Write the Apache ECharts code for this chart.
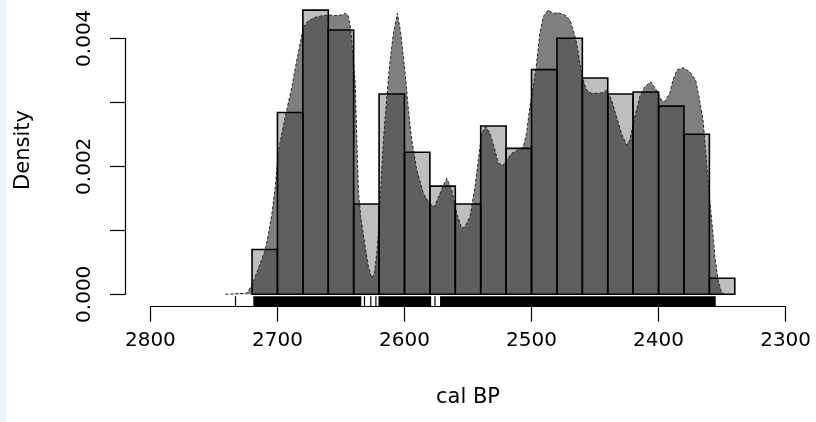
<!DOCTYPE html>
<html>
<head>
<meta charset="utf-8">
<script src="https://cdn.jsdelivr.net/npm/echarts@6/dist/echarts.min.js"></script>
<style>
  html, body { margin: 0; padding: 0; background: #ffffff; }
  #chart { width: 816px; height: 422px; }
  #edge { position: absolute; left: 0; top: 0; width: 6px; height: 422px; background: #eaf2fb; }
</style>
</head>
<body>
<div id="chart"></div>
<div id="edge"></div>
<script>
// Histogram of calibrated ages (20-year bins), density scale
const binEdges = [2720, 2700, 2680, 2660, 2640, 2620, 2600, 2580, 2560, 2540,
                  2520, 2500, 2480, 2460, 2440, 2420, 2400, 2380, 2360, 2340];
const binDensity = [0.0007, 0.00284, 0.00444, 0.00413, 0.00141, 0.00313, 0.00222, 0.00169, 0.00141, 0.00263,
                    0.00228, 0.00351, 0.0040, 0.00338, 0.00313, 0.00316, 0.00294, 0.0025, 0.00025];

// Kernel density estimate of the same sample
const densityYears = [2741, 2724, 2722.7, 2720.0, 2717.5, 2713.5, 2709.6, 2707.0, 2704.3, 2701.7,
  2699.1, 2696.5, 2693.1, 2688.6, 2684.7, 2681.3, 2679.5, 2675.6, 2670.3, 2665.0,
  2658.5, 2655.9, 2649.3, 2646.7, 2644.6, 2643.3, 2642.0, 2638.8, 2637.5, 2636.2,
  2634.4, 2631.8, 2628.4, 2625.7, 2623.7, 2621.8, 2620.2, 2618.6, 2616.6, 2613.9,
  2611.3, 2608.7, 2605.6, 2602.9, 2599.5, 2596.9, 2594.3, 2590.3, 2585.1, 2580.4,
  2576.5, 2572.0, 2566.7, 2562.8, 2558.9, 2555.0, 2552.4, 2548.4, 2544.5, 2541.9,
  2539.2, 2536.1, 2532.7, 2528.8, 2526.2, 2522.2, 2519.6, 2515.6, 2510.5, 2506.5,
  2503.9, 2501.3, 2498.7, 2496.0, 2493.4, 2490.8, 2486.9, 2482.9, 2479.0, 2473.7,
  2469.8, 2467.2, 2464.5, 2461.9, 2459.4, 2456.7, 2452.8, 2448.8, 2443.6, 2441.0,
  2437.0, 2433.1, 2429.2, 2425.2, 2422.6, 2418.7, 2414.8, 2410.8, 2406.1, 2401.7,
  2397.7, 2395.1, 2391.2, 2388.6, 2385.5, 2380.7, 2375.5, 2370.8, 2368.2, 2365.0,
  2362.9, 2361.1, 2359.2, 2357.2, 2355.6, 2353.2, 2350.6, 2348.0];
const densityValues = [0, 0.000016, 0.00004, 0.000145, 0.000275, 0.000484, 0.000692, 0.000953, 0.001266, 0.001681,
  0.002255, 0.002516, 0.002844, 0.003244, 0.003661, 0.004, 0.004181, 0.004275, 0.004328, 0.004353,
  0.004364, 0.004353, 0.004364, 0.00439, 0.004364, 0.00426, 0.004078, 0.003297, 0.002411, 0.001578,
  0.001213, 0.000848, 0.000431, 0.00025, 0.000328, 0.000641, 0.001056, 0.001681, 0.002411, 0.003088,
  0.003661, 0.004078, 0.00439, 0.004078, 0.003453, 0.00288, 0.002411, 0.001942, 0.001578, 0.001422,
  0.001369, 0.001578, 0.001813, 0.00163, 0.001266, 0.001031, 0.001056, 0.001213, 0.001681, 0.002098,
  0.002516, 0.002619, 0.002516, 0.002255, 0.002047, 0.00202, 0.002098, 0.002203, 0.002255, 0.002306,
  0.002516, 0.002931, 0.003244, 0.003609, 0.004078, 0.004338, 0.004442, 0.00439, 0.0044, 0.004364,
  0.004286, 0.00413, 0.003922, 0.003609, 0.003348, 0.003192, 0.003141, 0.003141, 0.00315, 0.003192,
  0.003036, 0.002775, 0.002516, 0.002333, 0.002411, 0.002775, 0.003088, 0.003244, 0.003322, 0.003192,
  0.003036, 0.00301, 0.003141, 0.003348, 0.003505, 0.003541, 0.003478, 0.003348, 0.003088, 0.002723,
  0.002255, 0.001786, 0.001369, 0.000953, 0.000588, 0.000223, 0.00004, 0];

// Rug of individual ages: runs of dense ticks [from, to] and single ticks [x, x]
const rugIntervals = [[2733, 2733], [2719, 2634], [2631.5, 2631.5], [2626.5, 2626.5], [2622.5, 2622.5],
                      [2620.5, 2579], [2576, 2576], [2572, 2355]];

// Axis ticks; y labels are printed on every other tick
const xTickMin = 2300, xTickMax = 2800, xTickStep = 100;
const yTickMin = 0, yTickMax = 0.004, yTickStep = 0.001;
const yLabelEvery = 2;

const FONT = 'DejaVu Sans';
const RUG_LEN = 10.5;

const histData = binDensity.map((d, i) => [binEdges[i], binEdges[i + 1], d]);
const densityData = densityYears.map((y, i) => [y, densityValues[i]]);

function histRenderer(fill, stroke, lw) {
  return function (params, api) {
    const top = api.coord([api.value(0), api.value(2)]);
    const base = api.coord([api.value(1), 0]);
    return {
      type: 'rect',
      shape: { x: Math.min(top[0], base[0]), y: top[1], width: Math.abs(base[0] - top[0]), height: base[1] - top[1] },
      style: { fill: fill, stroke: stroke, lineWidth: lw }
    };
  };
}

const yLow = -0.000194;
const chart = echarts.init(document.getElementById('chart'), null, { renderer: 'canvas' });
chart.setOption({
  animation: false,
  backgroundColor: '#ffffff',
  grid: [
    { left: 125, right: 5, top: 6.3, bottom: 115.3 },       // plotting region
    { left: 150.4, right: 30.4, top: 6.3, bottom: 115.3 },  // x axis (2800..2300)
    { left: 125, right: 5, top: 38.3, bottom: 127.7 }        // y axis (0..0.004)
  ],
  xAxis: [
    { gridIndex: 0, type: 'value', min: 2280, max: 2820, inverse: true, show: false },
    {
      gridIndex: 1, type: 'value', min: xTickMin, max: xTickMax, interval: xTickStep, inverse: true,
      position: 'bottom',
      axisLine: { show: true, lineStyle: { color: '#000', width: 1.2 } },
      axisTick: { show: true, length: 15, lineStyle: { color: '#000', width: 1.2 } },
      axisLabel: { color: '#000', fontFamily: FONT, fontSize: 20, margin: 24, formatter: v => String(v) },
      splitLine: { show: false }
    },
    { gridIndex: 2, type: 'value', min: 0, max: 1, show: false }
  ],
  yAxis: [
    { gridIndex: 0, type: 'value', min: yLow, max: 0.0045, show: false },
    { gridIndex: 1, type: 'value', min: 0, max: 1, show: false },
    {
      gridIndex: 2, type: 'value', min: yTickMin, max: yTickMax, interval: yTickStep,
      axisLine: { show: true, lineStyle: { color: '#000', width: 1.2 } },
      axisTick: { show: true, length: 15, lineStyle: { color: '#000', width: 1.2 } },
      axisLabel: { color: '#000', fontFamily: FONT, fontSize: 20, margin: 30, rotate: 90,
                   formatter: v => (Math.round((v - yTickMin) / yTickStep) % yLabelEvery === 0 ? v.toFixed(3) : '') },
      splitLine: { show: false }
    }
  ],
  series: [
    {
      type: 'custom', name: 'histogram', xAxisIndex: 0, yAxisIndex: 0, z: 1,
      renderItem: histRenderer('#bebebe', null, 0), data: histData
    },
    {
      type: 'line', name: 'density', xAxisIndex: 0, yAxisIndex: 0, z: 2,
      data: densityData, showSymbol: false, smooth: false,
      lineStyle: { color: '#262626', width: 1, type: [3, 2] },
      areaStyle: { color: '#000', opacity: 0.5, origin: 0 }
    },
    {
      type: 'custom', name: 'histogram outline', xAxisIndex: 0, yAxisIndex: 0, z: 3,
      renderItem: histRenderer(null, '#000', 1.6), data: histData
    },
    {
      type: 'custom', name: 'rug', xAxisIndex: 0, yAxisIndex: 0, z: 3,
      renderItem: function (params, api) {
        const a = api.coord([api.value(0), yLow]);
        const b = api.coord([api.value(1), yLow]);
        const single = Math.abs(b[0] - a[0]) < 1.2;
        const w = single ? 1.2 : Math.abs(b[0] - a[0]);
        const x0 = single ? a[0] - 0.6 : Math.min(a[0], b[0]);
        return { type: 'rect', shape: { x: x0, y: a[1] - RUG_LEN, width: w, height: RUG_LEN },
                 style: { fill: '#000' } };
      },
      data: rugIntervals
    }
  ],
  graphic: [
    { type: 'text', x: 24, y: 150, rotation: Math.PI / 2,
      style: { text: 'Density', font: '21px "DejaVu Sans"', fill: '#000', align: 'center', verticalAlign: 'middle' } },
    { type: 'text', x: 468, y: 398,
      style: { text: 'cal BP', font: '21px "DejaVu Sans"', fill: '#000', align: 'center', verticalAlign: 'middle' } }
  ]
});
</script>
</body>
</html>
